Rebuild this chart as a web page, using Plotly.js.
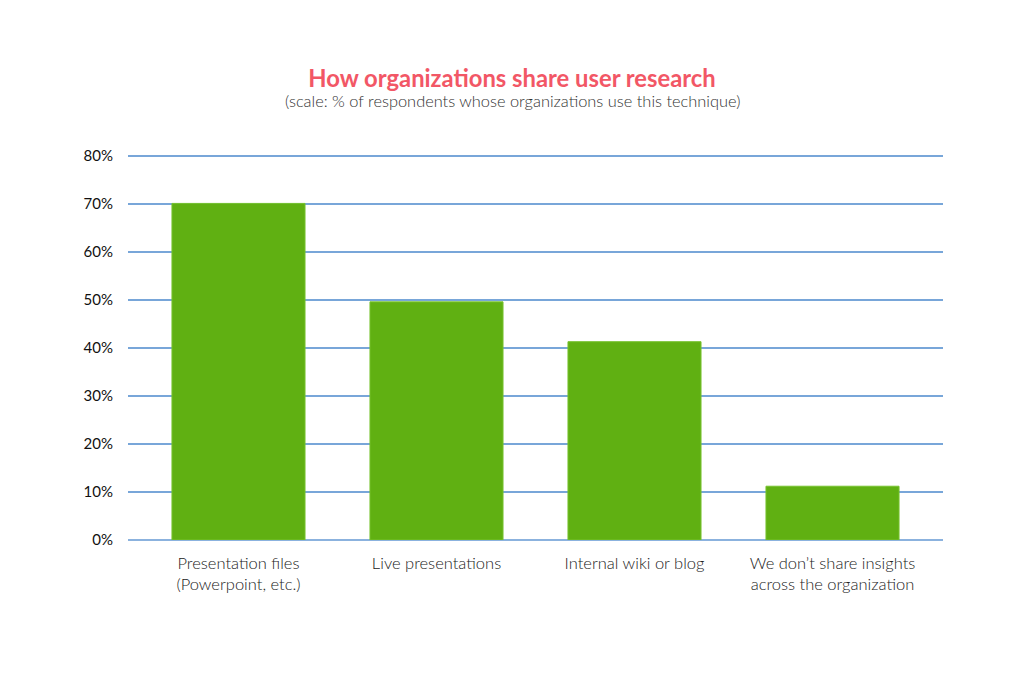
<!DOCTYPE html>
<html>
<head>
<meta charset="utf-8">
<script src="https://cdn.plot.ly/plotly-3.0.1.min.js"></script>
<style>
  html, body { margin: 0; padding: 0; background: #fff; }
  #chart { width: 1024px; height: 685px; }
</style>
</head>
<body>
<div id="chart"></div>
<script>
// share of respondents per technique (%)
const categories = [
    "Presentation files<br>(Powerpoint, etc.)",
    "Live presentations",
    "Internal wiki or blog",
    "We don\u2019t share insights<br>across the organization"
];
const shares = [70.1, 49.6, 41.3, 11.2];
const tickValues = [0, 10, 20, 30, 40, 50, 60, 70, 80];
const tickLabels = ["0%", "10%", "20%", "30%", "40%", "50%", "60%", "70%", "80%"];

document.addEventListener("DOMContentLoaded", function () {
    drawChart();
});

function drawChart() {
    const trace = {
        x: categories,
        y: shares,
        type: 'bar',
        marker: { color: '#60b012', line: { color: '#76c22e', width: 1 } },
        hoverinfo: 'none'
    };

    const layout = {
        width: 1024,
        height: 685,
        paper_bgcolor: '#ffffff',
        plot_bgcolor: '#ffffff',
        margin: { l: 128, r: 81, t: 153, b: 145 },
        bargap: 0.328,
        showlegend: false,
        font: { family: 'Lato, sans-serif', color: '#222222' },
        title: {
            text: '<b>How organizations share user research</b>',
            font: { family: 'Lato, sans-serif', size: 23.8, color: '#f25766' },
            x: 0.5,
            xref: 'container',
            xanchor: 'center',
            y: 1 - 78.5 / 685,
            yanchor: 'middle'
        },
        annotations: [{
            text: '(scale: % of respondents whose organizations use this technique)',
            xref: 'paper',
            yref: 'paper',
            x: (512 - 128) / 815,
            y: 1 + (153 - 101) / 387,
            xanchor: 'center',
            yanchor: 'middle',
            showarrow: false,
            font: { family: 'Lato, sans-serif', size: 16.4, color: '#333333', weight: 300 }
        }],
        xaxis: {
            type: 'category',
            range: [-0.558, 3.558],
            showgrid: false,
            zeroline: false,
            showline: false,
            ticks: '',
            tickfont: { family: 'Lato, sans-serif', size: 16.5, color: '#222222', weight: 300 },
            ticklabelstandoff: 11
        },
        yaxis: {
            range: [0, 80.6],
            tickvals: tickValues,
            ticktext: tickLabels,
            showgrid: true,
            gridcolor: '#78a6d9',
            gridwidth: 1.3,
            zeroline: true,
            zerolinecolor: '#8bb2de',
            zerolinewidth: 1.5,
            showline: false,
            ticks: '',
            ticklabelstandoff: 14,
            tickfont: { family: 'Lato, sans-serif', size: 15, color: '#111111' }
        }
    };

    Plotly.newPlot('chart', [trace], layout, { displayModeBar: false, staticPlot: true });
}
</script>
</body>
</html>
